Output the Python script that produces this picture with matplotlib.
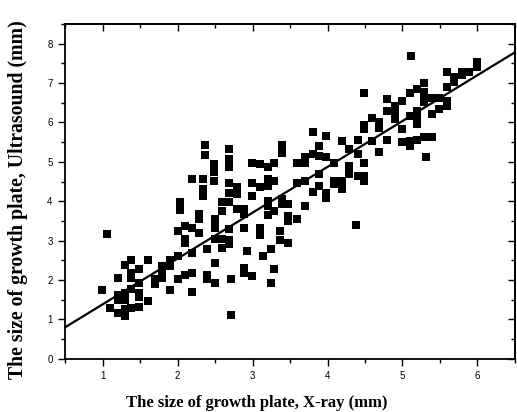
import matplotlib
matplotlib.use('Agg')
import matplotlib.pyplot as plt
import numpy as np
from matplotlib.ticker import MultipleLocator

# Growth plate size: X-ray (mm) vs ultrasound (mm)
xray = [0.99, 1.06, 1.10, 1.20, 1.20, 1.20, 1.20, 1.30, 1.30, 1.30, 1.30, 1.30,
        1.38, 1.38, 1.38, 1.38, 1.38, 1.49, 1.49, 1.49, 1.49, 1.49, 1.60, 1.60,
        1.70, 1.70, 1.79, 1.79, 1.79, 1.90, 1.90, 1.90, 2.00, 2.00, 2.00, 2.03,
        2.03, 2.10, 2.10, 2.10, 2.10, 2.19, 2.19, 2.19, 2.19, 2.19, 2.29, 2.29,
        2.29, 2.34, 2.34, 2.34, 2.37, 2.37, 2.39, 2.39, 2.39, 2.48, 2.48, 2.48,
        2.50, 2.50, 2.50, 2.50, 2.50, 2.50, 2.59, 2.59, 2.59, 2.59, 2.69, 2.69,
        2.69, 2.69, 2.69, 2.69, 2.69, 2.69, 2.69, 2.71, 2.71, 2.79, 2.79, 2.79,
        2.89, 2.89, 2.89, 2.89, 2.89, 2.92, 2.99, 2.99, 2.99, 2.99, 3.10, 3.10,
        3.10, 3.10, 3.14, 3.21, 3.21, 3.21, 3.21, 3.21, 3.21, 3.24, 3.24, 3.28,
        3.28, 3.28, 3.28, 3.36, 3.36, 3.39, 3.39, 3.39, 3.39, 3.47, 3.47, 3.47,
        3.47, 3.59, 3.59, 3.59, 3.70, 3.70, 3.70, 3.70, 3.80, 3.80, 3.80, 3.89,
        3.89, 3.89, 3.89, 3.98, 3.98, 3.98, 3.98, 4.09, 4.08, 4.08, 4.19, 4.19,
        4.19, 4.29, 4.29, 4.29, 4.38, 4.40, 4.40, 4.40, 4.49, 4.49, 4.49, 4.49,
        4.49, 4.49, 4.59, 4.59, 4.69, 4.69, 4.69, 4.79, 4.79, 4.79, 4.90, 4.90,
        4.90, 5.00, 5.00, 5.00, 5.10, 5.10, 5.10, 5.10, 5.12, 5.19, 5.19, 5.19,
        5.19, 5.19, 5.29, 5.29, 5.29, 5.29, 5.29, 5.31, 5.40, 5.40, 5.40, 5.49,
        5.49, 5.59, 5.59, 5.59, 5.59, 5.69, 5.69, 5.79, 5.79, 5.89, 5.99, 5.99]
ultrasound = [1.75, 3.18, 1.28, 2.04, 1.63, 1.50, 1.17, 2.37, 1.68, 1.50, 1.27, 1.08,
              2.52, 2.17, 2.06, 1.78, 1.28, 2.27, 1.93, 1.68, 1.58, 1.32, 2.52, 1.48,
              2.02, 1.89, 2.36, 2.23, 2.06, 2.50, 2.36, 1.74, 2.61, 2.03, 3.25, 3.97,
              3.78, 3.37, 3.05, 2.93, 2.14, 4.56, 3.32, 2.69, 2.17, 1.69, 3.20, 3.67,
              3.54, 4.56, 4.32, 4.12, 5.43, 5.18, 2.78, 2.14, 2.02, 4.94, 4.73, 4.52,
              3.56, 3.44, 3.33, 3.03, 2.44, 1.93, 3.98, 3.75, 3.03, 2.82, 5.32, 5.07,
              4.88, 4.46, 4.22, 3.98, 3.30, 3.02, 2.91, 2.02, 1.12, 4.35, 4.18, 3.81,
              3.81, 3.67, 3.32, 2.31, 2.17, 2.74, 4.98, 4.45, 4.12, 2.10, 4.94, 4.35,
              3.33, 3.14, 2.61, 4.88, 4.56, 4.39, 4.01, 3.88, 3.64, 2.78, 1.93, 4.98,
              4.52, 3.75, 2.29, 3.25, 3.02, 5.43, 5.22, 4.05, 3.92, 3.92, 3.63, 3.50,
              2.93, 4.98, 4.45, 3.54, 5.11, 4.98, 4.52, 3.88, 5.76, 5.19, 4.24, 5.41,
              5.15, 4.69, 4.39, 5.66, 5.11, 4.22, 4.07, 4.98, 4.52, 4.43, 5.52, 4.52,
              4.32, 5.32, 4.90, 4.69, 3.39, 5.56, 5.19, 4.64, 6.74, 5.93, 5.83, 4.97,
              4.64, 4.52, 6.12, 5.53, 6.00, 5.87, 5.24, 6.59, 6.29, 5.56, 6.42, 6.25,
              6.08, 6.55, 5.83, 5.51, 6.75, 6.17, 5.53, 5.41, 7.68, 6.86, 6.30, 6.08,
              5.96, 5.56, 7.00, 6.76, 6.64, 6.51, 5.64, 5.11, 6.62, 6.22, 5.64, 6.34,
              6.62, 7.29, 6.89, 6.55, 6.41, 7.15, 7.02, 7.29, 7.20, 7.27, 7.53, 7.40]

# Regression line as drawn in the figure
fit_slope = 1.163
fit_intercept = 0.22

x_range = (0.5, 6.5)
y_range = (0.0, 8.5)

fig = plt.figure(figsize=(5.17, 4.12), dpi=100)
ax = fig.add_axes([0.126, 0.129, 0.870, 0.813])

ax.scatter(xray, ultrasound, marker='s', s=28, color='black', linewidths=0, zorder=3)

line_x = np.array(x_range)
ax.plot(line_x, fit_slope * line_x + fit_intercept, color='black', linewidth=1.6, zorder=2)

ax.set_xlim(*x_range)
ax.set_ylim(*y_range)
ax.xaxis.set_major_locator(MultipleLocator(1))
ax.xaxis.set_minor_locator(MultipleLocator(0.5))
ax.yaxis.set_major_locator(MultipleLocator(1))
ax.yaxis.set_minor_locator(MultipleLocator(0.5))

for side in ['left', 'bottom', 'top', 'right']:
    ax.spines[side].set_linewidth(1.3)

ax.tick_params(which='both', direction='out', top=False, right=False, width=1.0)
ax.tick_params(which='major', length=5, labelsize=7, pad=4)
ax.tick_params(which='minor', length=3)
# inward ticks on the top and right edges
sec_x = ax.secondary_xaxis('top')
sec_x.xaxis.set_major_locator(MultipleLocator(1))
sec_x.xaxis.set_minor_locator(MultipleLocator(0.5))
sec_x.tick_params(which='both', direction='in', labeltop=False, width=1.0)
sec_x.tick_params(which='major', length=5)
sec_x.tick_params(which='minor', length=3)
sec_y = ax.secondary_yaxis('right')
sec_y.yaxis.set_major_locator(MultipleLocator(1))
sec_y.yaxis.set_minor_locator(MultipleLocator(0.5))
sec_y.tick_params(which='both', direction='in', labelright=False, width=1.0)
sec_y.tick_params(which='major', length=5)
sec_y.tick_params(which='minor', length=3)
sec_x.spines['top'].set_linewidth(1.3)
sec_y.spines['right'].set_linewidth(1.3)

for lab in ax.get_xticklabels() + ax.get_yticklabels():
    lab.set_family('Liberation Sans')

ax.set_xlabel('The size of growth plate, X-ray (mm)', fontsize=12, fontweight='bold',
              family='Liberation Serif')
ax.set_ylabel('The size of growth plate, Ultrasound (mm)', fontsize=14.2, fontweight='bold',
              family='Liberation Serif')
ax.xaxis.set_label_coords(0.427, -0.108)
ax.yaxis.set_label_coords(-0.082, 0.475)

fig.savefig('out.png', dpi=100)
